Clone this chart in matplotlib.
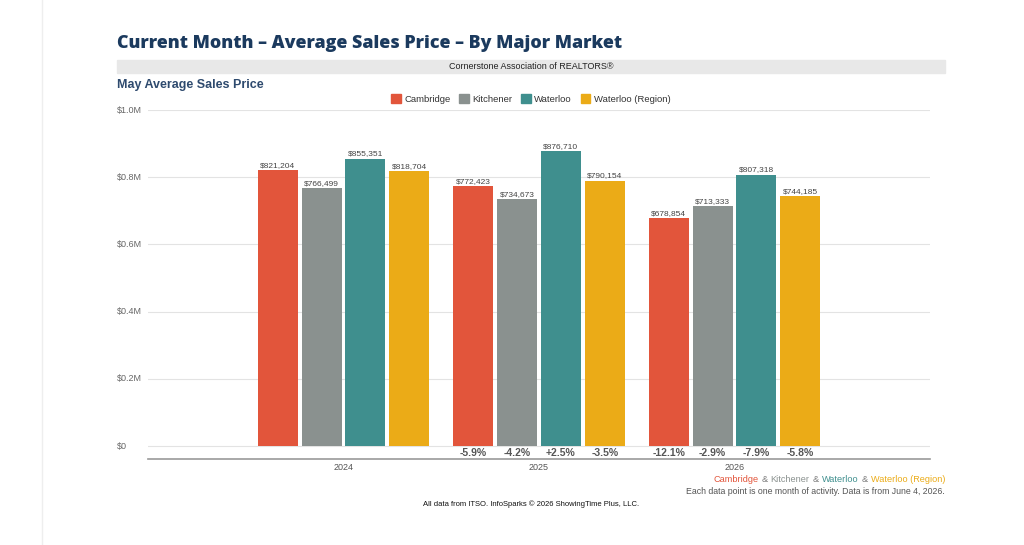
import matplotlib
matplotlib.use("Agg")
import matplotlib.pyplot as plt
import numpy as np

years = ["2024", "2025", "2026"]
markets = ["Cambridge", "Kitchener", "Waterloo", "Waterloo (Region)"]
cambridge = [821204, 772423, 678854]
kitchener = [766499, 734673, 713333]
waterloo = [855351, 876710, 807318]
region = [818704, 790154, 744185]
pct_cambridge = [None, "-5.9%", "-12.1%"]
pct_kitchener = [None, "-4.2%", "-2.9%"]
pct_waterloo = [None, "+2.5%", "-7.9%"]
pct_region = [None, "-3.5%", "-5.8%"]
yticks = [0, 200000, 400000, 600000, 800000, 1000000]
ytick_labels = ["$0", "$0.2M", "$0.4M", "$0.6M", "$0.8M", "$1.0M"]

colors = ["#e2553b", "#8a918f", "#3f8f8e", "#ebab17"]
series = [cambridge, kitchener, waterloo, region]
pcts = [pct_cambridge, pct_kitchener, pct_waterloo, pct_region]

W, H = 1024, 545
fig = plt.figure(figsize=(W / 100, H / 100), dpi=100)
fig.patch.set_facecolor("white")
renderer = fig.canvas.get_renderer()

def fx(px):
    return px / W

def fy(py):
    return 1 - py / H

# left faint vertical line
fig.add_artist(plt.Line2D([fx(42), fx(42)], [0, 1], color="#eeeeee", lw=1))

# Title, fitted to reference width (117..628 px)
title = fig.text(fx(117), fy(43), "Current Month \u2013 Average Sales Price \u2013 By Major Market",
                 fontsize=14, fontweight=800, color="#1b3a5e", family="Open Sans",
                 va="center", ha="left")
tw = title.get_window_extent(renderer=renderer).width
title.set_fontsize(14 * 511 / tw)

# gray band
fig.add_artist(plt.Rectangle((fx(117), fy(73)), fx(945) - fx(117), fy(60) - fy(73),
                             color="#e8e8e8", transform=fig.transFigure, zorder=0))
fig.text(fx(531), fy(66.5), "Cornerstone Association of REALTORS\u00ae", fontsize=6.5,
         color="#222222", ha="center", va="center", family="Liberation Sans")

fig.text(fx(117), fy(85), "May Average Sales Price", fontsize=9, fontweight="bold",
         color="#2e4a6e", ha="left", va="center", family="Liberation Sans")

# axes: x 148..930, y top 110 (1.0M) .. bottom 459
y_top_px, y_zero_px, y_bot_px = 110, 446, 459
scale = 1e6 / (y_zero_px - y_top_px)
ymin = -(y_bot_px - y_zero_px) * scale
ax = fig.add_axes([fx(148), fy(y_bot_px), fx(930) - fx(148), fy(y_top_px) - fy(y_bot_px)])
ax.set_xlim(-1, 3)
ax.set_ylim(ymin, 1e6)
ax.set_facecolor("none")
for s in ["top", "right", "left"]:
    ax.spines[s].set_visible(False)
ax.spines["bottom"].set_color("#999999")
ax.spines["bottom"].set_linewidth(1.2)
ax.set_yticks(yticks)
ax.set_yticklabels([])
for t in yticks:
    ax.axhline(t, color="#e3e3e3", lw=0.8, zorder=0)
for t, lab in zip(yticks, ytick_labels):
    fig.text(fx(117), fy(y_zero_px - t / scale), lab, fontsize=6.5, color="#666666",
             ha="left", va="center", family="Liberation Sans")
ax.tick_params(axis="y", length=0)
ax.tick_params(axis="x", length=0, pad=3)
x = np.arange(len(years))
ax.set_xticks(x)
ax.set_xticklabels(years, fontsize=6.5, color="#555555", family="Liberation Sans")

step = 44 / 196
bw = 40 / 196
for i, (vals, c, pc) in enumerate(zip(series, colors, pcts)):
    xs = x + (i - 1.5) * step
    ax.bar(xs, vals, width=bw, color=c, zorder=2)
    for xx, v, p in zip(xs, vals, pc):
        ax.text(xx, v + 4000, f"${v:,}", fontsize=6, color="#444444", ha="center",
                va="bottom", family="Liberation Sans")
        if p:
            ax.text(xx, ymin / 2, p, fontsize=7.5, fontweight="bold", color="#555555",
                    ha="center", va="center", family="Liberation Sans")

# legend
handles = [plt.Rectangle((0, 0), 1, 1, color=c) for c in colors]
fig.legend(handles, markets, loc="center", bbox_to_anchor=(fx(531), fy(99)), ncol=4,
           frameon=False, prop={"family": "Liberation Sans", "size": 6.8},
           handlelength=1.0, handleheight=1.0, handletextpad=0.4, columnspacing=0.9,
           labelcolor="#333333")

# bottom colored text, right aligned at 945, chained from the end
parts = [("Cambridge", colors[0]), ("&", "#777777"), ("Kitchener", colors[1]),
         ("&", "#777777"), ("Waterloo", colors[2]), ("&", "#777777"),
         ("Waterloo (Region)", colors[3])]
gap = 2.2  # points between words
prev = None
for s, c in reversed(parts):
    if prev is None:
        prev = fig.text(fx(945), fy(480), s, fontsize=6.6, color=c, family="Liberation Sans",
                        ha="right", va="center")
    else:
        prev = fig.text(0, 0, s, fontsize=6.6, color=c, family="Liberation Sans",
                        ha="right", va="center")
        prev_bb_ref = prev_ref
        prev.remove()
        prev = ax.annotate(s, xy=(0, 0.5), xycoords=prev_ref, xytext=(-gap, 0),
                           textcoords="offset points", fontsize=6.6, color=c,
                           family="Liberation Sans", ha="right", va="center",
                           annotation_clip=False)
    prev_ref = prev

fig.text(fx(945), fy(492), "Each data point is one month of activity. Data is from June 4, 2026.",
         fontsize=6.3, color="#555555", ha="right", va="center", family="Liberation Sans")
fig.text(fx(531), fy(504), "All data from ITSO. InfoSparks \u00a9 2026 ShowingTime Plus, LLC.",
         fontsize=5.5, color="#111111", ha="center", va="center", family="Liberation Sans")

fig.savefig("out.png", dpi=100, facecolor="white")
